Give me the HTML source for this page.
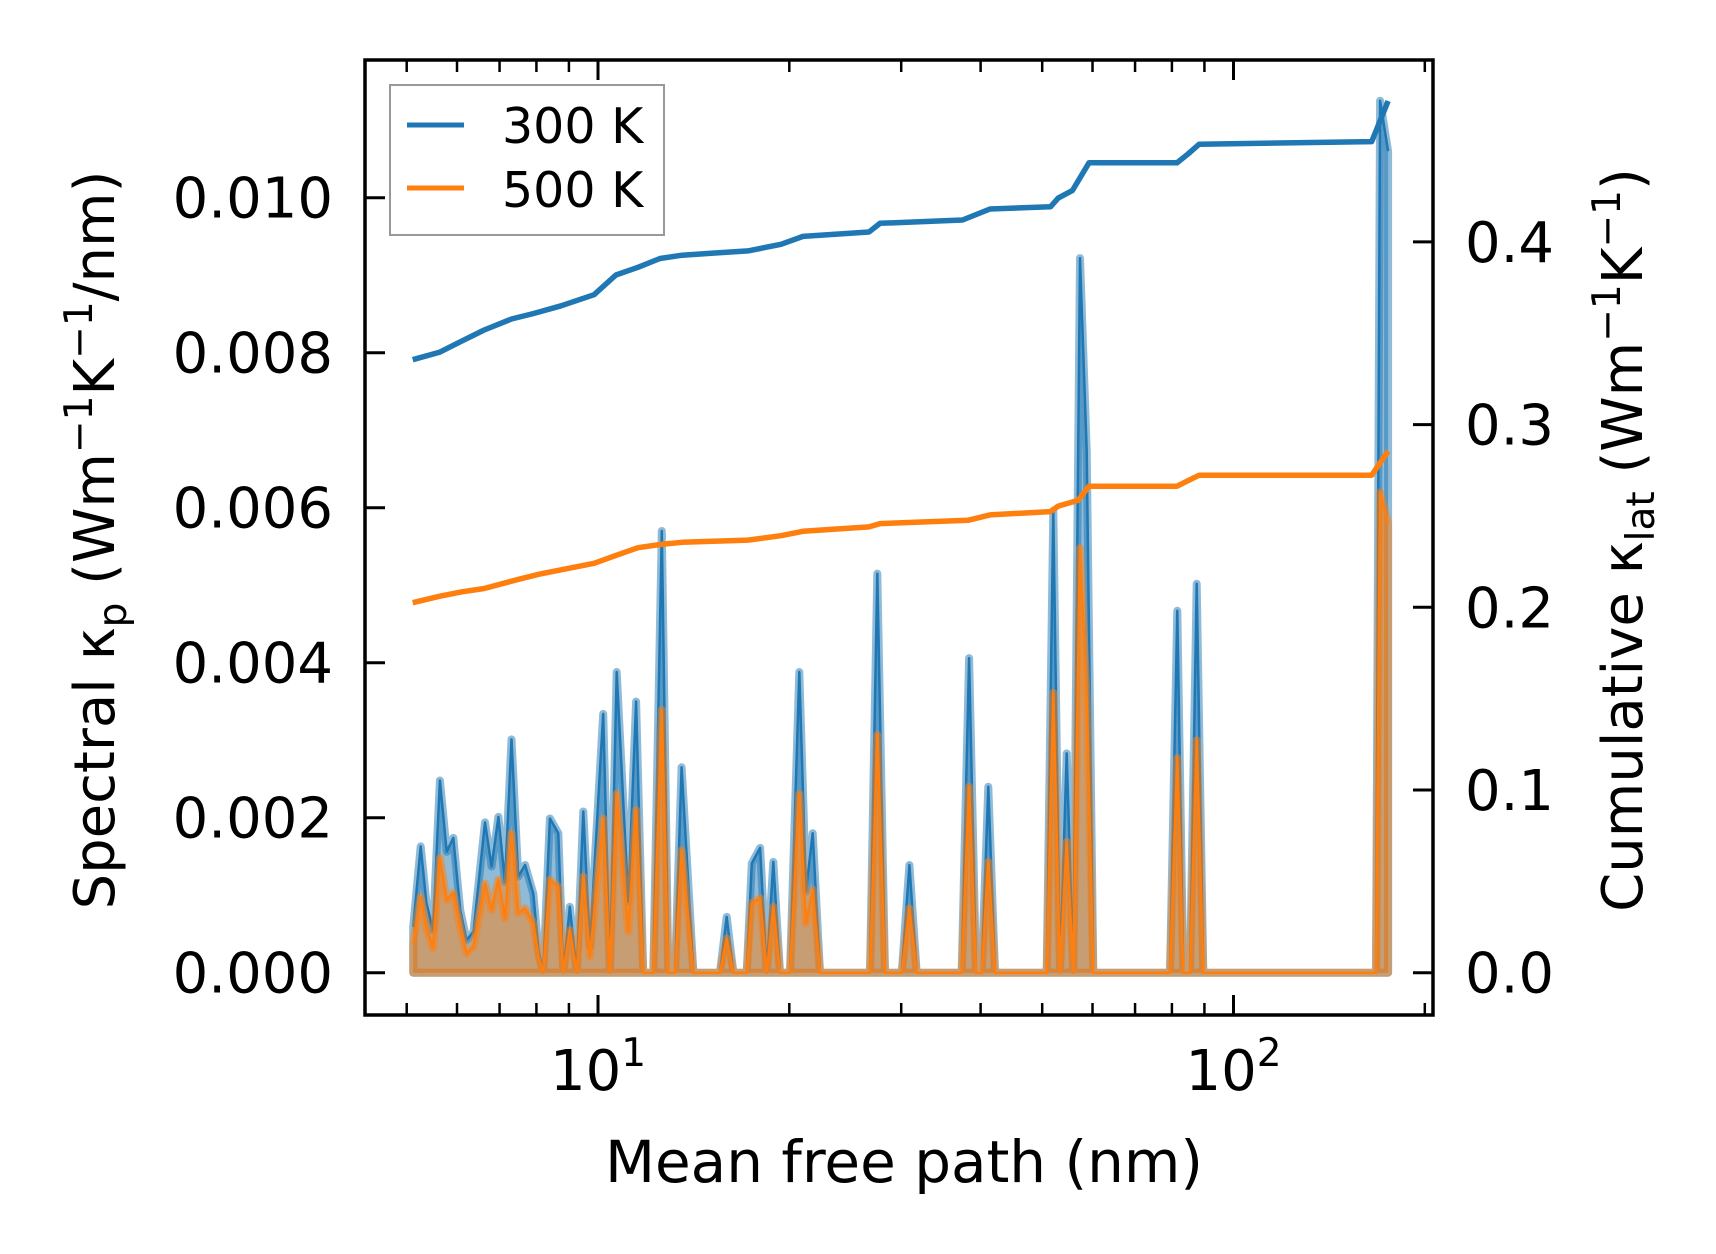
<!DOCTYPE html>
<html><head><meta charset="utf-8"><style>
html,body{margin:0;padding:0;background:#fff}
svg{display:block;font-family:"DejaVu Sans","Liberation Sans",sans-serif}
</style></head><body>
<svg id="chart" width="1716" height="1254" viewBox="0 0 1716 1254" xmlns="http://www.w3.org/2000/svg">
<rect width="1716" height="1254" fill="#fff"/>
<g id="marks"></g>
<g id="axes"></g>
</svg>
<script>
const mfp = [5.12,5.26,5.37,5.50,5.64,5.78,5.92,6.07,6.21,6.37,6.64,6.80,6.97,7.14,7.31,7.49,7.68,7.91,8.06,8.20,8.40,8.66,8.82,9.03,9.26,9.48,9.71,10.19,10.44,10.70,11.16,11.48,11.78,12.22,12.60,12.90,13.22,13.54,14.13,15.56,15.94,16.33,17.14,17.46,17.99,18.43,18.87,19.34,20.05,20.74,21.25,21.77,22.35,26.79,27.51,28.29,30.06,30.90,31.73,37.35,38.36,39.34,40.16,41.13,42.14,50.83,52.06,53.33,54.64,55.97,57.35,58.75,60.18,79.45,81.58,83.37,85.41,87.52,89.64,167.6,170.1,175.1];
const spec300 = [0.59,1.63,0.90,0.55,2.48,1.56,1.74,0.81,0.42,0.53,1.94,1.37,2.01,1.17,3.01,1.24,1.39,1.02,0.29,0,1.99,1.80,0,0.85,0,2.08,0.34,3.34,0,3.88,0.92,3.50,0,0,5.70,0,0,2.65,0,0,0.72,0,0,1.41,1.61,0,1.43,0,0,3.88,1.05,1.80,0,0,5.15,0,0,1.39,0,0,4.06,0,0,2.40,0,0,5.96,0,2.83,0,9.22,6.73,0,0,4.67,0,0,5.02,0,0,11.25,10.6];
const spec500 = [0.38,0.98,0.59,0.32,1.48,0.94,1.03,0.59,0.25,0.34,1.15,0.81,1.20,0.70,1.80,0.77,0.83,0.64,0.21,0,1.20,1.11,0,0.55,0,1.24,0.21,1.99,0,2.31,0.53,2.10,0,0,3.39,0,0,1.58,0,0,0.44,0,0,0.90,0.96,0,0.85,0,0,2.31,0.64,1.07,0,0,3.07,0,0,0.83,0,0,2.40,0,0,1.43,0,0,3.61,0,1.69,0,5.48,3.52,0,0,2.77,0,0,3.00,0,0,6.2,5.8];
const cumMfp300 = [5.11,5.64,6.11,6.62,7.31,7.92,8.75,9.86,10.67,11.56,12.52,13.56,15.28,17.22,19.41,21.02,26.70,27.78,37.46,41.39,51.52,52.98,55.81,59.24,81.5,84.8,88.3,165,175.1];
const cum300 = [0.3355,0.3397,0.3458,0.3518,0.3578,0.3608,0.3650,0.3711,0.3819,0.3861,0.3909,0.3927,0.3939,0.3951,0.3987,0.4030,0.4054,0.4102,0.4120,0.4180,0.4192,0.4240,0.4282,0.4433,0.4433,0.4481,0.4535,0.4549,0.4771];
const cumMfp500 = [5.11,5.64,6.11,6.62,7.46,8.08,8.75,9.86,10.67,11.56,12.52,13.56,17.22,19.41,21.02,26.70,27.78,38.2,41.39,51.52,52.98,56.92,59.24,81.5,84.8,88.3,165,175.1];
const cum500 = [0.2025,0.2061,0.2085,0.2103,0.2151,0.2181,0.2205,0.2241,0.2284,0.2326,0.2344,0.2356,0.2368,0.2392,0.2416,0.2440,0.2458,0.2476,0.2506,0.2524,0.2554,0.2585,0.2663,0.2663,0.2693,0.2723,0.2723,0.2855];
const leftTicks = [0,0.002,0.004,0.006,0.008,0.010];
const leftTickLabels = ["0.000","0.002","0.004","0.006","0.008","0.010"];
const rightTicks = [0,0.1,0.2,0.3,0.4];
const rightTickLabels = ["0.0","0.1","0.2","0.3","0.4"];
const xMajor = [10,100];
const xMinor = [5,6,7,8,9,20,30,40,50,60,70,80,90,200];

const L=365,R=1433,T=60,B=1015;
const X=v=>598+635.5*Math.log10(v/10);
const YL=v=>972.7-v*77.5; // v in 1e-3
const YR=v=>972.7-v*1827;
const NS="http://www.w3.org/2000/svg";
function mk(tag,attrs,parent){const e=document.createElementNS(NS,tag);for(const k in attrs)e.setAttribute(k,attrs[k]);parent.appendChild(e);return e;}
const marks=document.getElementById('marks'), axes=document.getElementById('axes');

function areaPath(ys){
  let d='M'+X(mfp[0])+','+YL(0);
  for(let i=0;i<mfp.length;i++) d+=' L'+X(mfp[i]).toFixed(1)+','+YL(ys[i]).toFixed(1);
  d+=' L'+X(mfp[mfp.length-1])+','+YL(0)+' Z';
  return d;
}
function linePath(xs,ys,fy){
  return xs.map((x,i)=>(i?'L':'M')+X(x).toFixed(1)+','+fy(ys[i]).toFixed(1)).join(' ');
}
const series=[{s:spec300,c:'#1f77b4',n:'300k'},{s:spec500,c:'#ff7f0e',n:'500k'}];
series.forEach(o=>{
  const f=mk('path',{d:areaPath(o.s),fill:o.c,'fill-opacity':0.5,stroke:'none'},marks);
  
  
  const e=mk('path',{d:areaPath(o.s),fill:'none',stroke:o.c,'stroke-opacity':0.5,'stroke-width':8,'stroke-linejoin':'round'},marks);
  
  
  const l=mk('path',{d:linePath(mfp,o.s,YL),fill:'none',stroke:o.c,'stroke-width':2.5,'stroke-linejoin':'round'},marks);
  
  
});
const c3=mk('path',{d:linePath(cumMfp300,cum300,YR),fill:'none',stroke:'#1f77b4','stroke-width':5.5,'stroke-linejoin':'round'},marks);


const c5=mk('path',{d:linePath(cumMfp500,cum500,YR),fill:'none',stroke:'#ff7f0e','stroke-width':5.5,'stroke-linejoin':'round'},marks);



leftTicks.forEach((v,i)=>{
  const y=YL(v*1000);
  const t=mk('line',{x1:L,x2:L+20,y1:y,y2:y,stroke:'#000','stroke-width':3},axes);
  
  
  const tx=mk('text',{x:333,y:y+20,'text-anchor':'end','font-size':56},axes);
  tx.textContent=leftTickLabels[i];
  
  
});
rightTicks.forEach((v,i)=>{
  const y=YR(v);
  const t=mk('line',{x1:R-20,x2:R,y1:y,y2:y,stroke:'#000','stroke-width':3},axes);
  
  
  const tx=mk('text',{x:1465,y:y+20,'font-size':56},axes);
  tx.textContent=rightTickLabels[i];
  
  
});
xMajor.forEach((v,i)=>{
  const x=X(v);
  [[B,B-20],[T,T+20]].forEach(p=>{
    const t=mk('line',{x1:x,x2:x,y1:p[0],y2:p[1],stroke:'#000','stroke-width':3},axes);
    
    
  });
  const tx=mk('text',{x:x,y:1090,'text-anchor':'middle','font-size':56},axes);
  
  
  tx.innerHTML='10<tspan font-size="39" dy="-24">'+(i+1)+'</tspan>';
});
xMinor.forEach(v=>{
  const x=X(v);
  [[B,B-12],[T,T+12]].forEach(p=>{
    const t=mk('line',{x1:x,x2:x,y1:p[0],y2:p[1],stroke:'#000','stroke-width':2.5},axes);
    
    
  });
});
const fr=mk('rect',{x:L,y:T,width:R-L,height:B-T,fill:'none',stroke:'#000','stroke-width':3.5},axes);


</script>
<svg style="position:absolute;left:0;top:0" width="1716" height="1254" xmlns="http://www.w3.org/2000/svg" font-family="DejaVu Sans, Liberation Sans, sans-serif">
<g>
<rect x="390" y="85" width="274" height="150" fill="#fff" fill-opacity="0.8" stroke="#999" stroke-width="2"/>
<line x1="407" y1="125" x2="464" y2="125" stroke="#1f77b4" stroke-width="5"/>
<text x="502" y="143" font-size="49">300 K</text>
<line x1="407" y1="188" x2="464" y2="188" stroke="#ff7f0e" stroke-width="5"/>
<text x="502" y="207" font-size="49">500 K</text>
</g>
<text x="904" y="1182" text-anchor="middle" font-size="58">Mean free path (nm)</text>
<text transform="translate(114,540) rotate(-90)" text-anchor="middle" font-size="56">Spectral κ<tspan font-size="39" dy="12">p</tspan><tspan dy="-12"> (Wm</tspan><tspan font-size="39" dy="-22">−1</tspan><tspan dy="22">K</tspan><tspan font-size="39" dy="-22">−1</tspan><tspan dy="22">/nm)</tspan></text>
<text transform="translate(1642,540) rotate(-90)" text-anchor="middle" font-size="56">Cumulative κ<tspan font-size="39" dy="12">lat</tspan><tspan dy="-12"> (Wm</tspan><tspan font-size="39" dy="-22">−1</tspan><tspan dy="22">K</tspan><tspan font-size="39" dy="-22">−1</tspan><tspan dy="22">)</tspan></text>
</svg>
</body></html>
